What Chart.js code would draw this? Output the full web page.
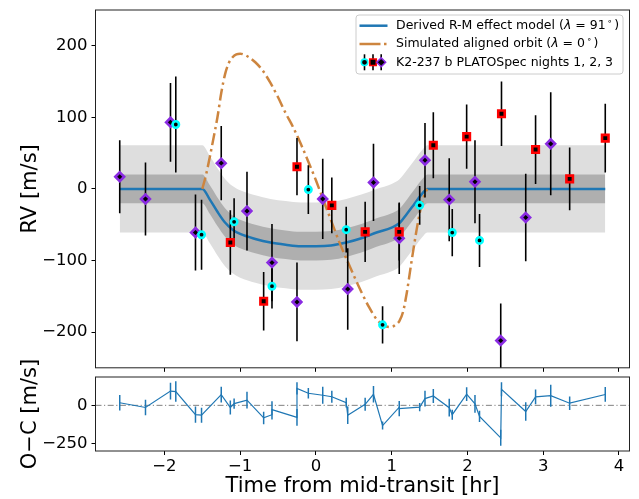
<!DOCTYPE html>
<html>
<head>
<meta charset="utf-8">
<script src="https://cdn.jsdelivr.net/npm/chart.js@4.4.1/dist/chart.umd.min.js"></script>
<style>
  html, body { margin: 0; padding: 0; background: #fff; }
  #wrap { position: relative; width: 639px; height: 499px; }
  #rv { position: absolute; left: 0; top: 0; }
  #oc { position: absolute; left: 0; top: 355px; }
</style>
</head>
<body>
<div id="wrap">
  <canvas id="rv" width="639" height="375" style="width:639px;height:375px"></canvas>
  <canvas id="oc" width="639" height="144" style="width:639px;height:144px"></canvas>
</div>
<script>
// --- data ---
// night 1 (cyan circles)
const n1Time = [-1.85, -1.51, -1.08, -0.58, -0.10, 0.40, 0.88, 1.37, 1.80, 2.16];
const n1RV   = [90, -64, -46, -136, -1, -57, -190, -23, -61, -72];
const n1Err  = [67, 49, 33, 31, 34, 32, 26, 27, 33, 37];
// night 2 (red squares)
const n2Time = [-1.13, -0.69, -0.25, 0.21, 0.65, 1.10, 1.55, 1.99, 2.45, 2.90, 3.35, 3.82];
const n2RV   = [-75, -157, 31, -23, -60, -60, 61, 73, 105, 55, 14, 71];
const n2Err  = [45, 41, 40, 39, 42, 40, 46, 45, 45, 48, 44, 48];
// night 3 (purple diamonds)
const n3Time = [-2.59, -2.25, -1.92, -1.59, -1.25, -0.91, -0.58, -0.25, 0.09, 0.42, 0.76, 1.10, 1.44, 1.76, 2.10, 2.44, 2.77, 3.10];
const n3RV   = [17, -14, 93, -61, 36, -31, -103, -158, -14, -140, 9, -69, 40, -15, 10, -212, -40, 63];
const n3Err  = [51, 51, 55, 53, 52, 55, 54, 55, 56, 57, 54, 50, 52, 58, 58, 52, 61, 72];

// derived R-M model (lambda = 91) and its 1/2 sigma bands
const modelTime = [-2.59, -1.50, -1.40, -1.30, -1.20, -1.10, -1.00, -0.80, -0.60, -0.40, -0.20, 0.00, 0.20, 0.40, 0.60, 0.80, 1.00, 1.10, 1.20, 1.30, 1.40, 1.47, 3.82];
const modelRV   = [0, 0, -15, -32, -47, -57, -63, -70, -75, -78, -80, -80, -79, -75, -69, -61, -54, -48, -35, -21, -7, 0, 0];
const band2Hi   = [61, 61, 46, 29, 14, 4, -2, -9, -14, -17, -19, -19, -18, -14, -8, 0, 7, 13, 26, 40, 54, 61, 61];
const band2Lo   = [-61, -61, -76, -93, -108, -118, -124, -131, -136, -139, -141, -141, -140, -136, -130, -122, -115, -109, -96, -82, -68, -61, -61];
const band1Hi   = [20, 20, 5, -12, -27, -37, -43, -50, -55, -58, -60, -60, -59, -55, -49, -41, -34, -28, -15, -1, 13, 20, 20];
const band1Lo   = [-20, -20, -35, -52, -67, -77, -83, -90, -95, -98, -100, -100, -99, -95, -89, -81, -74, -68, -55, -41, -27, -20, -20];

// simulated aligned orbit (lambda = 0)
const alignedTime = [-1.50, -1.45, -1.40, -1.35, -1.30, -1.25, -1.20, -1.15, -1.10, -1.05, -1.00, -0.90, -0.80, -0.70, -0.60, -0.50, -0.40, -0.30, -0.20, -0.10, 0.00, 0.10, 0.20, 0.30, 0.40, 0.50, 0.60, 0.70, 0.80, 0.90, 1.00, 1.05, 1.10, 1.15, 1.20, 1.25, 1.30, 1.35, 1.40, 1.45, 1.47];
const alignedRV   = [0, 20, 45, 72, 100, 134, 160, 176, 184, 188, 189, 185, 177, 165, 148, 128, 106, 86, 63, 38, 12, -16, -44, -72, -97, -121, -144, -165, -182, -191, -193, -190, -185, -172, -145, -110, -76, -45, -20, -4, 0];

// residuals (O-C), time ordered
const ocTime = [-2.59, -2.25, -1.92, -1.85, -1.59, -1.51, -1.25, -1.13, -1.08, -0.91, -0.69, -0.58, -0.58, -0.25, -0.25, -0.10, 0.09, 0.21, 0.40, 0.42, 0.65, 0.76, 0.88, 1.10, 1.10, 1.37, 1.44, 1.55, 1.76, 1.80, 1.99, 2.10, 2.16, 2.44, 2.45, 2.77, 2.90, 3.10, 3.35, 3.82];
const ocRes  = [17, -14, 93, 90, -61, -64, 70, -14, 11, 34, -82, -61, -28, -79, 110, 79, 66, 56, 18, -65, 7, 72, -132, -12, -21, -12, 44, 61, -15, -61, 73, 10, -72, -212, 105, -40, 55, 63, 14, 71];
const ocErr  = [51, 51, 55, 67, 53, 49, 52, 45, 33, 55, 41, 31, 54, 55, 40, 34, 56, 39, 32, 57, 42, 54, 26, 40, 50, 27, 52, 46, 58, 33, 45, 58, 37, 52, 45, 61, 48, 72, 44, 48];

// axes
const xMin = -2.91, xMax = 4.14;
const xTicks = [-2, -1, 0, 1, 2, 3, 4];
const rvTicks = [-200, -100, 0, 100, 200];
const ocTicks = [-250, 0];

const FONT = "'DejaVu Sans', sans-serif";
const C_BLUE = "#1f77b4";
const C_ORANGE = "#cd853f";
const ORANGE_DASH = [12, 4, 2.5, 4];

const fmt = v => (v < 0 ? "\u2212" + Math.abs(v) : String(v));
const pts = (ts, vs) => ts.map((t, i) => ({ x: t, y: vs[i] }));
function errSegments(ts, vs, es) {
  const out = [];
  ts.forEach((t, i) => {
    out.push({ x: t, y: vs[i] - es[i] }, { x: t, y: vs[i] + es[i] }, { x: t, y: null });
  });
  return out;
}

// axes frame on all four sides
const frame = {
  id: "frame",
  afterDatasetsDraw(chart) {
    const { ctx, chartArea: a } = chart;
    ctx.save();
    ctx.strokeStyle = "#222";
    ctx.lineWidth = 1;
    ctx.strokeRect(a.left, a.top, a.right - a.left, a.bottom - a.top);
    ctx.restore();
  }
};

function drawRich(ctx, x, y, parts) {
  parts.forEach(p => {
    ctx.font = p.font;
    x += p.pre || 0;
    ctx.fillText(p.text, x, y + (p.dy || 0));
    x += ctx.measureText(p.text).width + (p.post || 0);
  });
}

// matplotlib-like legend box
const legendBox = {
  id: "legendBox",
  afterDraw(chart) {
    const ctx = chart.ctx, a = chart.chartArea;
    const w = 267, h = 59;
    const right = a.right - 6.5, top = a.top + 5, left = right - w;
    const rows = [top + 10.7, top + 29, top + 47.3];
    ctx.save();
    ctx.beginPath();
    ctx.roundRect(left, top, w, h, 3);
    ctx.fillStyle = "rgba(255,255,255,0.8)";
    ctx.fill();
    ctx.strokeStyle = "#cccccc";
    ctx.lineWidth = 1;
    ctx.stroke();

    ctx.lineWidth = 2.5;
    ctx.strokeStyle = C_BLUE;
    ctx.beginPath(); ctx.moveTo(left + 3.5, rows[0]); ctx.lineTo(left + 31.5, rows[0]); ctx.stroke();

    ctx.strokeStyle = C_ORANGE;
    ctx.beginPath(); ctx.moveTo(left + 3.5, rows[1]); ctx.lineTo(left + 24.5, rows[1]); ctx.stroke();
    ctx.beginPath(); ctx.moveTo(left + 28, rows[1]); ctx.lineTo(left + 30.5, rows[1]); ctx.stroke();

    const marks = [
      { x: left + 8.5, style: "circle", r: 3.2, c: "#00ffff" },
      { x: left + 17, style: "rect", r: 4.6, c: "#ff0000" },
      { x: left + 25.2, style: "rectRot", r: 4.4, c: "#8a2be2" }
    ];
    marks.forEach(m => {
      ctx.strokeStyle = "#000"; ctx.lineWidth = 1.6;
      ctx.beginPath(); ctx.moveTo(m.x, rows[2] - 8); ctx.lineTo(m.x, rows[2] + 8); ctx.stroke();
      ctx.fillStyle = "#000"; ctx.strokeStyle = m.c;
      Chart.helpers.drawPoint(ctx, { pointStyle: m.style, radius: m.r, borderWidth: 2.6, rotation: 0 }, m.x, rows[2]);
    });

    const norm = "12.5px " + FONT, ital = "italic 12.5px " + FONT, sup = "9px " + FONT;
    ctx.fillStyle = "#000";
    ctx.textBaseline = "middle";
    ctx.textAlign = "left";
    const tx = left + 40;
    drawRich(ctx, tx, rows[0], [
      { text: "Derived R-M effect model (", font: norm },
      { text: "\u03bb", font: ital },
      { text: " = 91", font: norm },
      { text: "\u2218", font: sup, dy: -4, pre: 1.5, post: 1.5 },
      { text: ")", font: norm }
    ]);
    drawRich(ctx, tx, rows[1], [
      { text: "Simulated aligned orbit (", font: norm },
      { text: "\u03bb", font: ital },
      { text: " = 0", font: norm },
      { text: "\u2218", font: sup, dy: -4, pre: 1.5, post: 1.5 },
      { text: ")", font: norm }
    ]);
    drawRich(ctx, tx, rows[2], [{ text: "K2-237 b PLATOSpec nights 1, 2, 3", font: norm }]);
    ctx.restore();
  }
};

function lineDs(data, opts) {
  return Object.assign({
    type: "line", data, pointRadius: 0, borderWidth: 0, fill: false,
    spanGaps: false, tension: 0
  }, opts);
}
function markerDs(ts, vs, style, r, color) {
  return {
    type: "scatter", data: pts(ts, vs), order: 0,
    pointStyle: style, pointRadius: r, pointHoverRadius: r,
    pointBorderWidth: 2.6, pointBorderColor: color, pointBackgroundColor: "#000"
  };
}

const tickFont = { family: FONT, size: 16.5 };
const titleFont = { family: FONT, size: 21 };

const rvChart = new Chart(document.getElementById("rv"), {
  type: "line",
  data: {
    datasets: [
      lineDs(pts(modelTime, band2Hi), { fill: "+1", backgroundColor: "#dedede", order: 10, cubicInterpolationMode: "monotone" }),
      lineDs(pts(modelTime, band2Lo), { order: 10, cubicInterpolationMode: "monotone" }),
      lineDs(pts(modelTime, band1Hi), { fill: "+1", backgroundColor: "#afafaf", order: 9, cubicInterpolationMode: "monotone" }),
      lineDs(pts(modelTime, band1Lo), { order: 9, cubicInterpolationMode: "monotone" }),
      lineDs(pts(modelTime, modelRV), { borderColor: C_BLUE, borderWidth: 2.5, order: 8, cubicInterpolationMode: "monotone" }),
      lineDs(pts(alignedTime, alignedRV), { borderColor: C_ORANGE, borderWidth: 2.5, borderDash: ORANGE_DASH, order: 7, cubicInterpolationMode: "monotone" }),
      lineDs(errSegments(n1Time, n1RV, n1Err), { borderColor: "#000", borderWidth: 1.6, order: 2 }),
      lineDs(errSegments(n2Time, n2RV, n2Err), { borderColor: "#000", borderWidth: 1.6, order: 2 }),
      lineDs(errSegments(n3Time, n3RV, n3Err), { borderColor: "#000", borderWidth: 1.6, order: 2 }),
      markerDs(n1Time, n1RV, "circle", 3.2, "#00ffff"),
      markerDs(n2Time, n2RV, "rect", 4.6, "#ff0000"),
      markerDs(n3Time, n3RV, "rectRot", 4.4, "#8a2be2")
    ]
  },
  options: {
    responsive: false, animation: false, devicePixelRatio: 1,
    layout: { padding: { left: 0, right: 9.5, top: 10, bottom: 0 } },
    plugins: { legend: { display: false }, tooltip: { enabled: false } },
    scales: {
      x: {
        type: "linear", min: xMin, max: xMax,
        afterBuildTicks: s => { s.ticks = xTicks.map(v => ({ value: v })); },
        ticks: { callback: () => "", autoSkip: false, maxRotation: 0, font: tickFont },
        grid: { drawOnChartArea: false, tickLength: 4, color: "#000" },
        border: { display: false },
        afterFit: s => { s.height = 4; s.paddingLeft = 0; s.paddingRight = 0; }
      },
      y: {
        type: "linear", min: -250, max: 250,
        afterBuildTicks: s => { s.ticks = rvTicks.map(v => ({ value: v })); },
        ticks: { callback: fmt, font: tickFont, color: "#000", padding: 4 },
        grid: { drawOnChartArea: false, tickLength: 4, color: "#000" },
        border: { display: false },
        title: { display: true, text: "RV [m/s]", font: titleFont, color: "#000", padding: { top: 18, bottom: 0 } },
        afterFit: s => { s.width = 95.5; s.paddingTop = 0; s.paddingBottom = 0; }
      }
    }
  },
  plugins: [frame, legendBox]
});

const ocChart = new Chart(document.getElementById("oc"), {
  type: "line",
  data: {
    datasets: [
      lineDs([{ x: xMin, y: 0 }, { x: xMax, y: 0 }], { borderColor: "#808080", borderWidth: 1, borderDash: [6, 2.5, 1.2, 2.5], order: 3 }),
      lineDs(pts(ocTime, ocRes), { borderColor: C_BLUE, borderWidth: 1.2, order: 2 }),
      lineDs(errSegments(ocTime, ocRes, ocErr), { borderColor: C_BLUE, borderWidth: 1.5, order: 1 })
    ]
  },
  options: {
    responsive: false, animation: false, devicePixelRatio: 1,
    layout: { padding: { left: 0, right: 9.5, top: 22, bottom: 0 } },
    plugins: { legend: { display: false }, tooltip: { enabled: false } },
    scales: {
      x: {
        type: "linear", min: xMin, max: xMax,
        afterBuildTicks: s => { s.ticks = xTicks.map(v => ({ value: v })); },
        ticks: { callback: fmt, autoSkip: false, maxRotation: 0, font: tickFont, color: "#000", padding: 2 },
        grid: { drawOnChartArea: false, tickLength: 4, color: "#000" },
        border: { display: false },
        title: { display: true, text: "Time from mid-transit [hr]", font: titleFont, color: "#000", padding: { top: 0, bottom: 0 } },
        afterFit: s => { s.height = 48; s.paddingLeft = 0; s.paddingRight = 0; }
      },
      y: {
        type: "linear", min: -298, max: 185,
        afterBuildTicks: s => { s.ticks = ocTicks.map(v => ({ value: v })); },
        ticks: { callback: fmt, font: tickFont, color: "#000", padding: 4 },
        grid: { drawOnChartArea: false, tickLength: 4, color: "#000" },
        border: { display: false },
        title: { display: true, text: "O\u2212C [m/s]", font: titleFont, color: "#000", padding: { top: 18, bottom: 0 } },
        afterFit: s => { s.width = 95.5; s.paddingTop = 0; s.paddingBottom = 0; }
      }
    }
  },
  plugins: [frame]
});
</script>
</body>
</html>
